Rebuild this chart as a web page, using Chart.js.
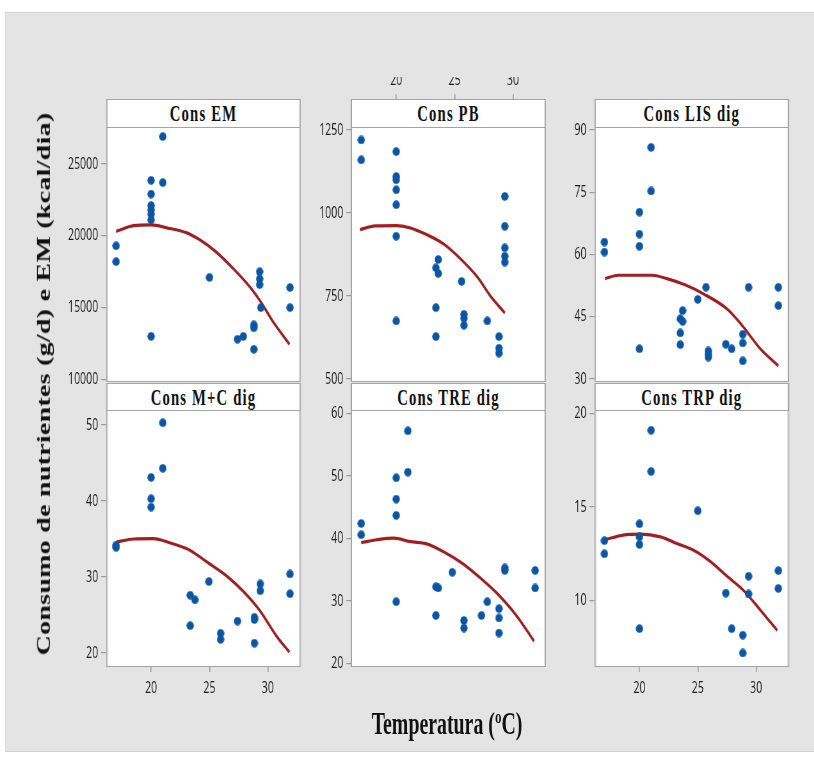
<!DOCTYPE html>
<html>
<head>
<meta charset="utf-8">
<script src="https://cdn.jsdelivr.net/npm/chart.js@4.4.0/dist/chart.umd.min.js"></script>
<style>
html, body { margin: 0; padding: 0; background: #fff; overflow: hidden; width: 814px; height: 757px; }
#wrap { position: absolute; left: 0; top: 0; height: 757px; transform-origin: 0 0; }
.frame { position: absolute; background: #e4e4e4; border: 1px solid #d4d4d4; box-sizing: border-box; }
.box { position: absolute; background: #fff; box-sizing: border-box; border-style: solid; border-color: #a4a4a4; }
.hdr { position: absolute; background: #fff; box-sizing: border-box; border-style: solid; border-color: #a4a4a4;
       font-family: "Liberation Serif"; font-weight: bold; font-size: 23px; letter-spacing: 1.8px; text-align: center; color: #111; white-space: nowrap; }
canvas { position: absolute; }
.ttl { position: absolute; font-family: "Liberation Serif"; font-weight: bold; white-space: nowrap; color: #111; line-height: 1; }
</style>
</head>
<body>
<div id="wrap"></div>
<script>
// picture is squeezed horizontally, so everything is laid out wide and scaled back
const S = 0.64

const xTicks = [20, 25, 30]
const xRange = [16.15, 32.85]

// Cons EM
const emX = [17, 17, 20, 20, 20, 20, 20, 20, 20, 21, 21, 25, 27.4, 27.9, 28.8, 28.8, 28.8, 29.3, 29.3, 29.3, 29.4, 31.9, 31.9]
const emY = [19300, 18200, 23850, 22900, 22100, 21800, 21500, 21100, 13000, 26900, 23700, 17100, 12800, 13000, 13800, 13600, 12100, 17500, 17000, 16600, 15000, 16400, 15000]
const emFitX = [17, 18.5, 20, 21.35, 23.05, 24.2, 25.6, 27.05, 28.5, 29.35, 30.5, 31.85]
const emFitY = [20300, 20700, 20750, 20550, 20200, 19700, 18850, 17700, 16400, 15450, 13950, 12450]
const emTicks = [10000, 15000, 20000, 25000]
const emRange = [9826, 27561]

// Cons PB
const pbX = [17, 17, 20, 20, 20, 20, 20, 20, 20, 23.4, 23.4, 23.4, 23.6, 23.6, 25.6, 25.8, 25.8, 25.8, 27.8, 28.8, 28.8, 28.8, 29.3, 29.3, 29.3, 29.3, 29.3]
const pbY = [1220, 1160, 1185, 1110, 1100, 1070, 1025, 930, 675, 835, 715, 628, 860, 818, 794, 695, 683, 662, 675, 628, 593, 578, 1050, 960, 895, 870, 852]
const pbFitX = [16.9, 18.2, 20, 21.1, 22.6, 24.05, 25.65, 27, 28.15, 29.3]
const pbFitY = [950, 961, 962, 956, 935, 907, 857, 805, 746, 699]
const pbTicks = [500, 750, 1000, 1250]
const pbRange = [491, 1259]

// Cons LIS dig
const lisX = [17, 17, 20, 20, 20, 20, 21, 21, 23.5, 23.7, 23.7, 23.5, 23.5, 25, 25.7, 25.9, 25.9, 25.9, 27.4, 27.9, 28.85, 28.85, 28.85, 29.35, 31.9, 31.9]
const lisY = [63.0, 60.6, 70.2, 64.9, 62.0, 37.3, 85.8, 75.3, 44.5, 46.5, 43.9, 41.1, 38.3, 49.2, 52.1, 36.8, 36.0, 35.3, 38.4, 37.3, 40.8, 38.7, 34.4, 52.1, 52.1, 47.7]
const lisFitX = [17.05, 18.2, 20.1, 21.05, 22.35, 23.9, 25.5, 27.5, 28.8, 30.35, 31.9]
const lisFitY = [54.2, 55.0, 55.0, 55.0, 54.2, 52.7, 50.5, 46.9, 42.9, 37.3, 33.2]
const lisTicks = [30, 45, 60, 75, 90]
const lisRange = [29.3, 90.7]

// Cons M+C dig
const mcX = [17, 17, 20, 20, 20, 21, 21, 23.35, 23.75, 23.35, 24.95, 25.95, 25.95, 27.4, 28.85, 28.85, 28.85, 29.35, 29.35, 31.9, 31.9]
const mcY = [34.2, 33.9, 43.1, 40.3, 39.2, 50.3, 44.3, 27.6, 27.0, 23.6, 29.4, 22.6, 21.8, 24.2, 24.7, 24.4, 21.3, 29.1, 28.2, 30.4, 27.8]
const mcFitX = [17, 18.5, 20.2, 21.6, 23.35, 24.75, 26.5, 27.9, 29.35, 30.75, 31.85]
const mcFitY = [34.6, 35.0, 35.05, 34.5, 33.5, 32.0, 30.1, 28.1, 25.5, 22.2, 20.1]
const mcTicks = [20, 30, 40, 50]
const mcRange = [18.16, 51.97]

// Cons TRE dig
const treX = [17, 17, 20, 20, 20, 20, 21, 21, 23.4, 23.6, 23.4, 24.8, 25.8, 25.8, 27.3, 27.8, 28.8, 28.8, 28.8, 29.3, 29.3, 31.9, 31.9]
const treY = [42.4, 40.6, 49.7, 46.3, 43.7, 29.9, 57.2, 50.6, 32.3, 32.1, 27.7, 34.6, 26.9, 25.7, 27.7, 29.9, 28.8, 27.3, 24.9, 35.3, 34.9, 34.9, 32.1]
const treFitX = [17, 18.35, 19.8, 21.2, 22.6, 24.05, 25.65, 27.2, 28.6, 30.35, 31.8]
const treFitY = [39.35, 39.8, 40.05, 39.5, 39.15, 37.9, 36.05, 33.7, 31.3, 27.55, 23.6]
const treTicks = [20, 30, 40, 50, 60]
const treRange = [19.47, 60.53]

// Cons TRP dig
const trpX = [17, 17, 20, 20, 20, 20, 21, 21, 25, 27.4, 27.9, 28.85, 28.85, 29.35, 29.35, 31.9, 31.9]
const trpY = [13.2, 12.5, 14.1, 13.4, 13.0, 8.5, 19.1, 16.9, 14.8, 10.4, 8.5, 8.15, 7.2, 11.3, 10.35, 11.6, 10.65]
const trpFitX = [17.05, 18.6, 20.1, 21.8, 23.2, 24.6, 26.05, 27.5, 28.9, 30.35, 31.8]
const trpFitY = [13.25, 13.5, 13.55, 13.4, 13.05, 12.7, 12.1, 11.3, 10.55, 9.5, 8.4]
const trpTicks = [10, 15, 20]
const trpRange = [6.45, 20.18]

const panels = [
    { title: 'Cons EM', col: 0, row: 0, xAxis: 'none', x: emX, y: emY, fx: emFitX, fy: emFitY, ticks: emTicks, range: emRange },
    { title: 'Cons PB', col: 1, row: 0, xAxis: 'top', x: pbX, y: pbY, fx: pbFitX, fy: pbFitY, ticks: pbTicks, range: pbRange },
    { title: 'Cons LIS dig', col: 2, row: 0, xAxis: 'none', x: lisX, y: lisY, fx: lisFitX, fy: lisFitY, ticks: lisTicks, range: lisRange },
    { title: 'Cons M+C dig', col: 0, row: 1, xAxis: 'bottom', x: mcX, y: mcY, fx: mcFitX, fy: mcFitY, ticks: mcTicks, range: mcRange },
    { title: 'Cons TRE dig', col: 1, row: 1, xAxis: 'none', x: treX, y: treY, fx: treFitX, fy: treFitY, ticks: treTicks, range: treRange },
    { title: 'Cons TRP dig', col: 2, row: 1, xAxis: 'bottom', x: trpX, y: trpY, fx: trpFitX, fy: trpFitY, ticks: trpTicks, range: trpRange }
]

// layout, in picture pixels
const colLeft = [106, 351, 594.3]
const colWidth = 195
const rows = [
    { head: 99, top: 126.7, bottom: 381.5 },
    { head: 383.3, top: 410, bottom: 667.3 }
]
const padL = 62, padR = 8, padT = 50, padB = 35

const wrap = document.getElementById('wrap')
wrap.style.width = (814 / S) + 'px'
wrap.style.transform = 'scaleX(' + S + ')'

function addDiv(cls, left, top, width, height) {
    let d = document.createElement('div')
    d.className = cls
    d.style.left = (left / S) + 'px'
    d.style.top = top + 'px'
    if (width != null) d.style.width = (width / S) + 'px'
    if (height != null) d.style.height = height + 'px'
    wrap.appendChild(d)
    return d
}

addDiv('frame', 5, 12, 830, 740)

// blue dots are a bit wider than a circle once squeezed back
let dot = document.createElement('canvas')
dot.width = 12
dot.height = 9
let dctx = dot.getContext('2d')
dctx.fillStyle = '#0b56a4'
dctx.beginPath()
dctx.ellipse(6, 4.5, 5.7, 4.3, 0, 0, Math.PI * 2)
dctx.fill()

const tickFont = { family: '"Liberation Sans Narrow", "Open Sans"', size: 16.5 }

panels.forEach(p => {
    let L = colLeft[p.col]
    let r = rows[p.row]
    let plotH = r.bottom - r.top
    let headH = r.top - r.head

    let box = addDiv('box', L, r.head, colWidth, r.bottom - r.head)
    box.style.borderWidth = '1.6px 2.5px'

    let cv = document.createElement('canvas')
    cv.width = Math.round((padL + colWidth + padR) / S)
    cv.height = Math.round(plotH + padT + padB)
    cv.style.left = ((L - padL) / S) + 'px'
    cv.style.top = (r.top - padT) + 'px'
    cv.style.width = cv.width + 'px'
    cv.style.height = cv.height + 'px'
    wrap.appendChild(cv)

    let hdr = addDiv('hdr', L, r.head, colWidth, headH + 1)
    hdr.style.borderWidth = '1.6px 2.5px'
    hdr.style.lineHeight = (headH - 1) + 'px'
    hdr.style.paddingTop = '1px'
    hdr.textContent = p.title

    let pts = p.x.map((v, i) => ({ x: v, y: p.y[i] }))
    let fit = p.fx.map((v, i) => ({ x: v, y: p.fy[i] }))

    new Chart(cv, {
        type: 'scatter',
        data: {
            datasets: [{
                data: pts,
                pointStyle: dot,
                pointRadius: 5,
                order: 0
            }, {
                data: fit,
                showLine: true,
                pointRadius: 0,
                borderColor: '#a11f22',
                borderWidth: 3.2,
                tension: 0.4,
                cubicInterpolationMode: 'monotone',
                order: 1
            }]
        },
        options: {
            responsive: false,
            animation: false,
            devicePixelRatio: 1,
            events: [],
            layout: {
                padding: {
                    left: 0,
                    right: padR / S,
                    top: p.xAxis === 'top' ? 0 : padT,
                    bottom: p.xAxis === 'bottom' ? 0 : padB
                }
            },
            plugins: { legend: { display: false }, tooltip: { enabled: false } },
            scales: {
                x: {
                    type: 'linear',
                    position: p.xAxis === 'top' ? 'top' : 'bottom',
                    display: p.xAxis !== 'none',
                    min: xRange[0],
                    max: xRange[1],
                    afterBuildTicks: s => { s.ticks = xTicks.map(v => ({ value: v })) },
                    afterFit: s => {
                        if (p.xAxis === 'top') s.height = padT
                        if (p.xAxis === 'bottom') s.height = padB
                    },
                    grid: {
                        drawOnChartArea: false,
                        tickLength: p.xAxis === 'top' ? headH + 5 : 5,
                        color: '#9a9a9a',
                        lineWidth: 1.6
                    },
                    border: { display: false },
                    ticks: {
                        font: tickFont, color: '#1c1c1c', padding: p.xAxis === 'top' ? 4 : 6,
                        maxRotation: 0, autoSkip: false, callback: v => String(v)
                    }
                },
                y: {
                    min: p.range[0],
                    max: p.range[1],
                    afterBuildTicks: s => { s.ticks = p.ticks.map(v => ({ value: v })) },
                    afterFit: s => { s.width = padL / S },
                    grid: { drawOnChartArea: false, tickLength: 5 / S, color: '#9a9a9a', lineWidth: 1.2 },
                    border: { display: false },
                    ticks: { font: tickFont, color: '#1c1c1c', padding: 3 / S, autoSkip: false, callback: v => String(v) }
                }
            }
        }
    })
})

let yt = addDiv('ttl', 44, 384)
yt.style.fontSize = '28px'
yt.style.letterSpacing = '0.25px'
yt.style.transform = 'translate(-50%, -50%) rotate(-90deg)'
yt.textContent = 'Consumo de nutrientes (g/d) e EM (kcal/dia)'

let xt = addDiv('ttl', 447, 708.4)
xt.style.fontSize = '31px'
xt.style.transform = 'translateX(-50%)'
xt.textContent = 'Temperatura (ºC)'
</script>
</body>
</html>
